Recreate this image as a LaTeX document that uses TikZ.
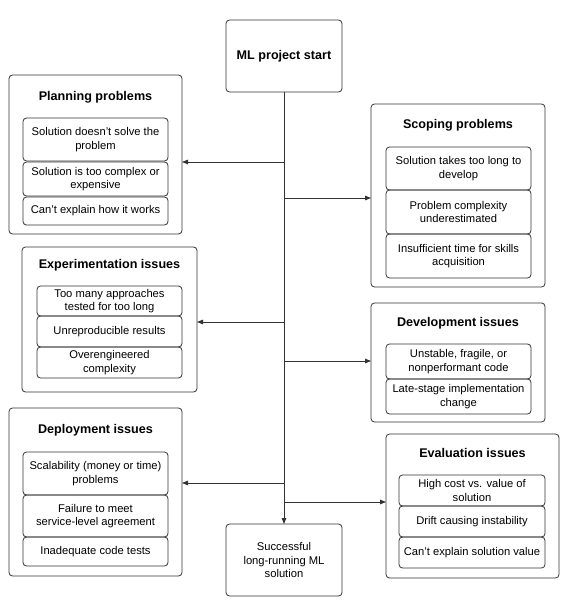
\documentclass[tikz,border=0pt]{standalone}
\usepackage{fontspec}
\setmainfont{Liberation Sans}
\usetikzlibrary{arrows.meta}
\definecolor{ln}{HTML}{333333}
\newcommand{\itemfont}{\fontsize{11.2bp}{13.6bp}\selectfont}
\newcommand{\titlefont}{\fontsize{12.6bp}{15bp}\selectfont\bfseries}
\begin{document}
\begin{tikzpicture}[x=1bp,y=-1bp,
  outerbox/.style={draw=ln, line width=0.8pt, rounded corners=3.5bp, inner sep=0pt, outer sep=0pt},
  itembox/.style={draw=ln, line width=0.8pt, rounded corners=3.5bp, inner sep=0pt, outer sep=0pt, align=center, font=\itemfont},
  titletext/.style={font=\titlefont, inner sep=0pt},
  conn/.style={draw=ln, line width=0.8pt},
  arr/.style={conn, -{Triangle[length=6bp,width=4.5bp]}}
]
\useasboundingbox (0,0) rectangle (574,602);

% start and end
\node[itembox, minimum width=116bp, minimum height=72bp, font=\titlefont] (start) at (284,56) {ML project start};
\node[itembox, minimum width=116bp, minimum height=72bp] (succ) at (284,560) {Successful\\long-running ML\\solution};

% Planning
\node[outerbox, minimum width=173bp, minimum height=159bp] (plan) at (95.5,154.5) {};
\node[titletext] (planT) at (95.5,97) {Planning problems};
\node[itembox, minimum width=145bp, minimum height=43bp] (plan1) at (95.5,139.5) {Solution doesn't solve the\\problem};
\node[itembox, minimum width=145bp, minimum height=34bp] (plan2) at (95.5,179) {Solution is too complex or\\expensive};
\node[itembox, minimum width=145bp, minimum height=28bp] (plan3) at (95.5,211) {Can't explain how it works};

% Scoping
\node[outerbox, minimum width=174bp, minimum height=183bp] (scop) at (458,195.5) {};
\node[titletext] (scopT) at (458,125) {Scoping problems};
\node[itembox, minimum width=145bp, minimum height=43bp] (scop1) at (458.5,168.5) {Solution takes too long to\\develop};
\node[itembox, minimum width=145bp, minimum height=44bp] (scop2) at (458.5,212) {Problem complexity\\underestimated};
\node[itembox, minimum width=145bp, minimum height=44bp] (scop3) at (458.5,256) {Insufficient time for skills\\acquisition};

% Experimentation
\node[outerbox, minimum width=175bp, minimum height=145bp] (expe) at (109.5,319.5) {};
\node[titletext] (expeT) at (109.5,265) {Experimentation issues};
\node[itembox, minimum width=145bp, minimum height=30bp] (expe1) at (109.5,301) {Too many approaches\\tested for too long};
\node[itembox, minimum width=145bp, minimum height=31bp] (expe2) at (109.5,331.5) {Unreproducible results};
\node[itembox, minimum width=145bp, minimum height=31bp] (expe3) at (109.5,362.5) {Overengineered\\complexity};

% Development
\node[outerbox, minimum width=174bp, minimum height=119bp] (deve) at (458,362.5) {};
\node[titletext] (deveT) at (458,323) {Development issues};
\node[itembox, minimum width=145bp, minimum height=35bp] (deve1) at (458.5,361.5) {Unstable, fragile, or\\nonperformant code};
\node[itembox, minimum width=145bp, minimum height=35bp] (deve2) at (458.5,396.5) {Late-stage implementation\\change};

% Deployment
\node[outerbox, minimum width=173bp, minimum height=168bp] (depl) at (95.5,492) {};
\node[titletext] (deplT) at (95.5,430) {Deployment issues};
\node[itembox, minimum width=145bp, minimum height=43bp] (depl1) at (95.5,473.5) {Scalability (money or time)\\problems};
\node[itembox, minimum width=145bp, minimum height=42bp] (depl2) at (95.5,516) {Failure to meet\\service-level agreement};
\node[itembox, minimum width=145bp, minimum height=29bp] (depl3) at (95.5,551.5) {Inadequate code tests};

% Evaluation
\node[outerbox, minimum width=173bp, minimum height=144bp] (eval) at (472.5,506) {};
\node[titletext] (evalT) at (472.5,453) {Evaluation issues};
\node[itembox, minimum width=146bp, minimum height=31bp] (eval1) at (472,490.5) {High cost vs. value of\\solution};
\node[itembox, minimum width=146bp, minimum height=31bp] (eval2) at (472,521.5) {Drift causing instability};
\node[itembox, minimum width=146bp, minimum height=31bp] (eval3) at (472,552.5) {Can't explain solution value};

% trunk
\draw[arr] (start.south) -- (succ.north);

% branch points on trunk
\coordinate (b1) at (284,162);
\coordinate (b2) at (284,198);
\coordinate (b3) at (284,322);
\coordinate (b4) at (284,361);
\coordinate (b5) at (284,483);
\coordinate (b6) at (284,502);

\draw[arr] (b1) -- (b1 -| plan.east);
\draw[arr] (b2) -- (b2 -| scop.west);
\draw[arr] (b3) -- (b3 -| expe.east);
\draw[arr] (b4) -- (b4 -| deve.west);
\draw[arr] (b5) -- (b5 -| depl.east);
\draw[arr] (b6) -- (b6 -| eval.west);
\end{tikzpicture}
\end{document}
